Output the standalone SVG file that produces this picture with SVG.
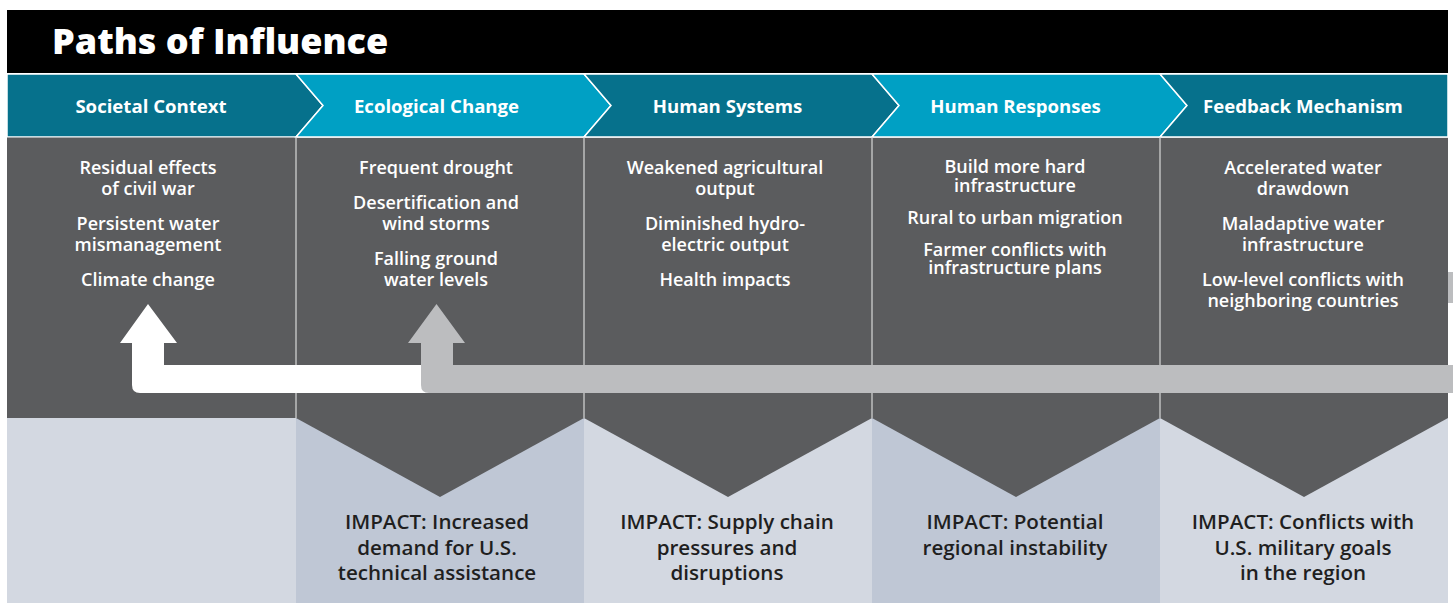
<svg xmlns="http://www.w3.org/2000/svg" width="1453" height="603" viewBox="0 0 1453 603">
<style>
.title{font-family:"Open Sans","Liberation Sans",sans-serif;font-weight:800;font-size:36px;fill:#fff}
.hdr{font-family:"Open Sans","Liberation Sans",sans-serif;font-weight:700;font-size:18.6px;fill:#fff;text-anchor:middle}
.body{font-family:"Open Sans","Liberation Sans",sans-serif;font-weight:600;font-size:18px;fill:#fff;text-anchor:middle}
.imp{font-family:"Open Sans","Liberation Sans",sans-serif;font-weight:600;font-size:20.6px;fill:#1f1f1f;text-anchor:middle}
.dark{fill:#06718c}
.light{fill:#00a0c4}
.chev{stroke:#fff;stroke-width:1.5}
.gray{fill:#5b5c5e}
.sep{stroke:#d8d8d8;stroke-width:1.2}
.bl{fill:#d3d8e1}
.bd{fill:#bfc7d5}
</style>
<rect x="0" y="0" width="1453" height="603" fill="#fff"/>
<g id="header">
<rect x="7" y="10" width="1441" height="63" fill="#000"/>
<text class="title" x="52" y="54">Paths of Influence</text>
</g>
<g id="bottom-bg">
<rect class="bl" x="7" y="418" width="289" height="185"/>
<rect class="bd" x="296" y="418" width="288" height="185"/>
<rect class="bl" x="584" y="418" width="288" height="185"/>
<rect class="bd" x="872" y="418" width="288" height="185"/>
<rect class="bl" x="1160" y="418" width="288" height="185"/>
</g>
<g id="col1">
<path class="dark chev" d="M7,74 L296,74 L323,105.5 L296,137 L7,137 Z"/>
<text class="hdr" x="151" y="113">Societal Context</text>
<rect class="gray" x="7" y="137.5" width="289" height="280.5"/>
<text class="body"><tspan x="148" y="174">Residual effects</tspan><tspan x="148" y="195">of civil war</tspan><tspan x="148" y="230">Persistent water</tspan><tspan x="148" y="251">mismanagement</tspan><tspan x="148" y="286">Climate change</tspan></text>
</g>
<g id="col2">
<path class="gray" d="M296,137.5 L584,137.5 L584,418 L440,497 L296,418 Z"/>
<path class="light chev" d="M296,74 L584,74 L611,105.5 L584,137 L296,137 L323,105.5 Z"/>
<text class="hdr" x="436.5" y="113">Ecological Change</text>
<text class="body"><tspan x="436" y="174">Frequent drought</tspan><tspan x="436" y="209">Desertification and</tspan><tspan x="436" y="230">wind storms</tspan><tspan x="436" y="265">Falling ground</tspan><tspan x="436" y="286">water levels</tspan></text>
<text class="imp"><tspan x="437" y="529">IMPACT: Increased</tspan><tspan x="437" y="555">demand for U.S.</tspan><tspan x="437" y="580">technical assistance</tspan></text>
</g>
<g id="col3">
<path class="gray" d="M584,137.5 L872,137.5 L872,418 L728,497 L584,418 Z"/>
<path class="dark chev" d="M584,74 L872,74 L899,105.5 L872,137 L584,137 L611,105.5 Z"/>
<text class="hdr" x="727.5" y="113">Human Systems</text>
<text class="body"><tspan x="725" y="174">Weakened agricultural</tspan><tspan x="725" y="195">output</tspan><tspan x="725" y="230">Diminished hydro-</tspan><tspan x="725" y="251">electric output</tspan><tspan x="725" y="286">Health impacts</tspan></text>
<text class="imp"><tspan x="727" y="529">IMPACT: Supply chain</tspan><tspan x="727" y="555">pressures and</tspan><tspan x="727" y="580">disruptions</tspan></text>
</g>
<g id="col4">
<path class="gray" d="M872,137.5 L1160,137.5 L1160,418 L1016,497 L872,418 Z"/>
<path class="light chev" d="M872,74 L1160,74 L1187,105.5 L1160,137 L872,137 L899,105.5 Z"/>
<text class="hdr" x="1015.5" y="113">Human Responses</text>
<text class="body"><tspan x="1015" y="173">Build more hard</tspan><tspan x="1015" y="192">infrastructure</tspan><tspan x="1015" y="224">Rural to urban migration</tspan><tspan x="1015" y="256">Farmer conflicts with</tspan><tspan x="1015" y="274">infrastructure plans</tspan></text>
<text class="imp"><tspan x="1015" y="529">IMPACT: Potential</tspan><tspan x="1015" y="555">regional instability</tspan></text>
</g>
<g id="col5">
<path class="gray" d="M1160,137.5 L1448,137.5 L1448,418 L1304,497 L1160,418 Z"/>
<path class="dark chev" d="M1160,74 L1448,74 L1448,137 L1160,137 L1187,105.5 Z"/>
<text class="hdr" x="1303" y="113">Feedback Mechanism</text>
<text class="body"><tspan x="1303" y="174">Accelerated water</tspan><tspan x="1303" y="195">drawdown</tspan><tspan x="1303" y="230">Maladaptive water</tspan><tspan x="1303" y="251">infrastructure</tspan><tspan x="1303" y="286">Low-level conflicts with</tspan><tspan x="1303" y="307">neighboring countries</tspan></text>
<text class="imp"><tspan x="1303" y="529">IMPACT: Conflicts with</tspan><tspan x="1303" y="555">U.S. military goals</tspan><tspan x="1303" y="580">in the region</tspan></text>
</g>
<g id="separators">
<line class="sep" x1="296" y1="137" x2="296" y2="418"/>
<line class="sep" x1="584" y1="137" x2="584" y2="418"/>
<line class="sep" x1="872" y1="137" x2="872" y2="418"/>
<line class="sep" x1="1160" y1="137" x2="1160" y2="418"/>
</g>
<g id="connectors">
<path fill="#fff" d="M148,304 L177,343 L164,343 L164,365 L440,365 L440,393 L140,393 Q132,393 132,385 L132,343 L120,343 Z"/>
<path fill="#bcbdbf" d="M436.5,304 L465,343 L453,343 L453,365 L1453,365 L1453,393 L429,393 Q421,393 421,385 L421,343 L408,343 Z"/>
<rect x="1448" y="272" width="5" height="31" fill="#bcbdbf"/>
</g>
</svg>
